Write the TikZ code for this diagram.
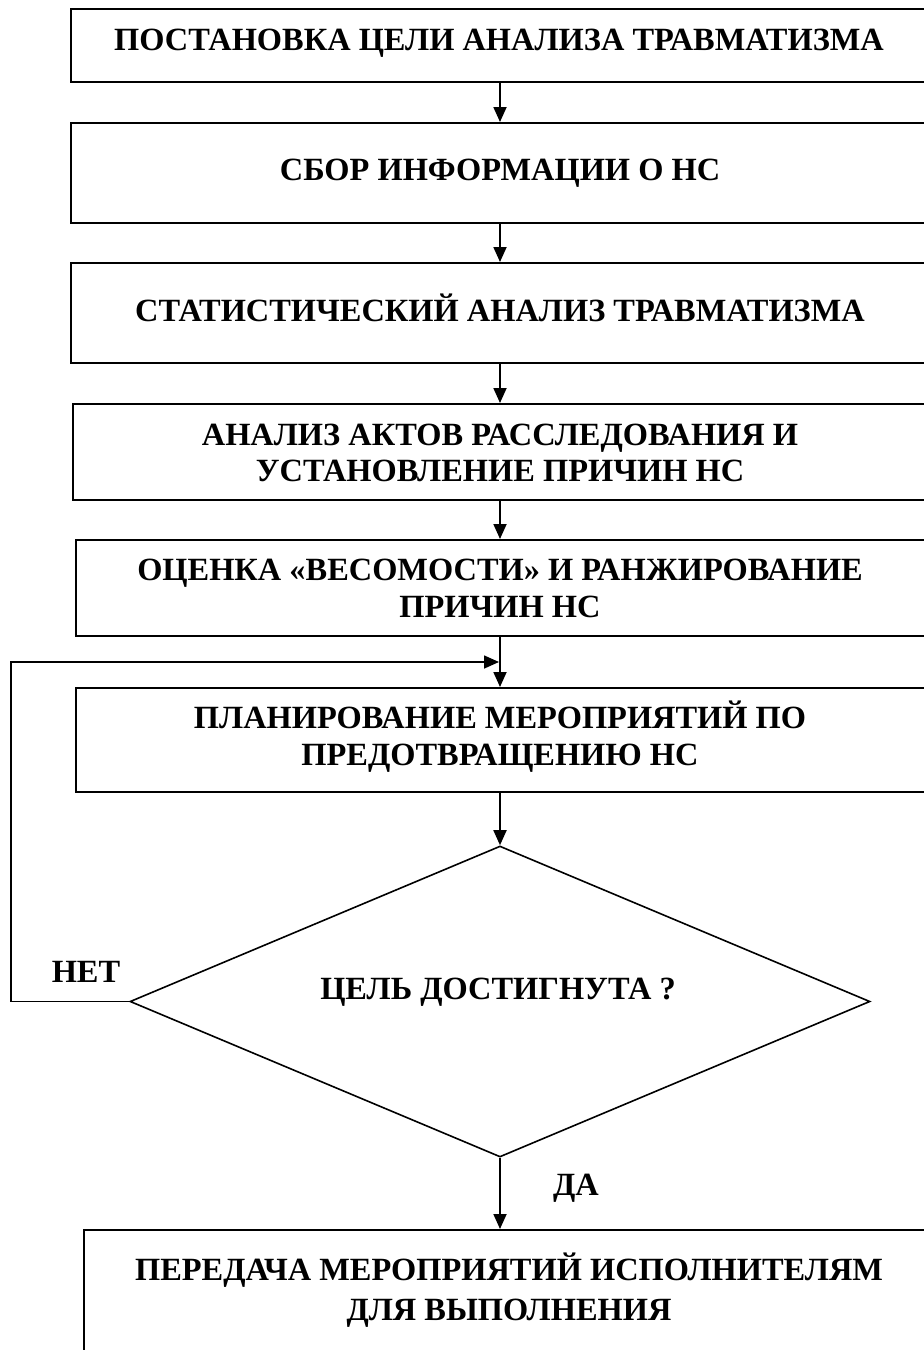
\documentclass[tikz,border=0pt]{standalone}
\usepackage{fontspec}
\setmainfont{Liberation Serif}
\usetikzlibrary{arrows.meta,shapes.geometric}
\begin{document}
\begin{tikzpicture}[x=1pt,y=-1pt,
  box/.style={draw,line width=2pt,rectangle,inner sep=0pt},
  dia/.style={draw,line width=1.6pt,diamond,inner sep=0pt,minimum width=740pt,minimum height=311pt},
  lbl/.style={font=\bfseries\fontsize{32.4}{36.5}\selectfont,align=center,inner sep=0pt},
  conn/.style={line width=1.8pt,-{Triangle[length=15pt,width=13pt]}},
  plain/.style={line width=1.8pt}
]
\useasboundingbox (0,0) rectangle (924,1350);
\fill[white] (0,0) rectangle (924,1350);
\clip (0,0) rectangle (924,1350);
\coordinate (ax) at (500,0);

% boxes
\node[box,minimum width=859pt,minimum height=73pt]  (b1) at (500.5,45.5) {};
\node[box,minimum width=859pt,minimum height=100pt] (b2) at (500.5,173) {};
\node[box,minimum width=859pt,minimum height=100pt] (b3) at (500.5,313) {};
\node[box,minimum width=857pt,minimum height=96pt]  (b4) at (501.5,452) {};
\node[box,minimum width=854pt,minimum height=96pt]  (b5) at (503,588) {};
\node[box,minimum width=854pt,minimum height=104pt] (b6) at (503,740) {};
\node[dia] (d) at (500,1001.5) {};
\node[box,minimum width=856pt,minimum height=130pt] (b7) at (512,1295) {};

% labels
\node[lbl,text height=22pt,text depth=0pt] (t1) at (499,28.5) [anchor=north] {ПОСТАНОВКА ЦЕЛИ АНАЛИЗА ТРАВМАТИЗМА};
\node[lbl,text height=22pt,text depth=0pt] (t2) at (500,158) [anchor=north] {СБОР ИНФОРМАЦИИ О НС};
\node[lbl,text height=22pt,text depth=0pt] (t3) at (500,299) [anchor=north] {СТАТИСТИЧЕСКИЙ АНАЛИЗ ТРАВМАТИЗМА};
\node[lbl] (t4) at (500,453) {АНАЛИЗ АКТОВ РАССЛЕДОВАНИЯ И\\УСТАНОВЛЕНИЕ ПРИЧИН НС};
\node[lbl] (t5) at (500,588.5) {ОЦЕНКА «ВЕСОМОСТИ» И РАНЖИРОВАНИЕ\\ПРИЧИН НС};
\node[lbl] (t6) at (500,736.5) {ПЛАНИРОВАНИЕ МЕРОПРИЯТИЙ ПО\\ПРЕДОТВРАЩЕНИЮ НС};
\node[lbl,text height=22pt,text depth=0pt] (t7) at (498,977) [anchor=north] {ЦЕЛЬ ДОСТИГНУТА ?};
\node[lbl,text height=22pt,text depth=0pt] (no) at (86,960) [anchor=north] {НЕТ};
\node[lbl,text height=22pt,text depth=0pt] (yes) at (576,1173) [anchor=north] {ДА};
\node[lbl,font=\bfseries\fontsize{32.4}{40}\selectfont] (t8) at (509,1290) {ПЕРЕДАЧА МЕРОПРИЯТИЙ ИСПОЛНИТЕЛЯМ\\ДЛЯ ВЫПОЛНЕНИЯ};

% connectors
\coordinate (lp1) at (11,1001.5);
\coordinate (lp2) at (11,662);
\coordinate (lp3) at (499,662);
\draw[conn] (b1.south -| ax) -- (b2.north -| ax);
\draw[conn] (b2.south -| ax) -- (b3.north -| ax);
\draw[conn] (b3.south -| ax) -- (b4.north -| ax);
\draw[conn] (b4.south -| ax) -- (b5.north -| ax);
\draw[conn] (b5.south -| ax) -- (b6.north -| ax);
\draw[conn] (b6.south -| ax) -- (d.north);
\draw[conn] (d.south) -- (b7.north -| ax);
\draw[conn,line width=1.6pt] (d.west) -- (lp1) -- (lp2) -- (lp3);
\end{tikzpicture}
\end{document}
